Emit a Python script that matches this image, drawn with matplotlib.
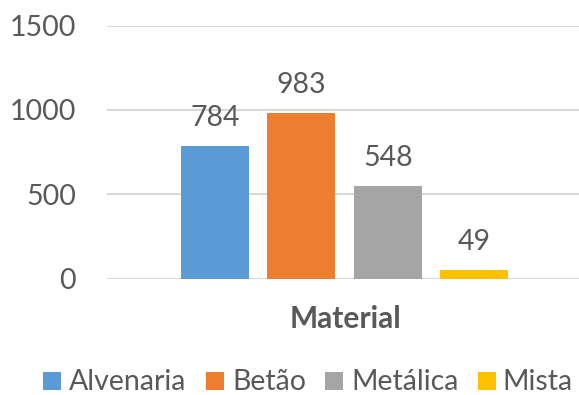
import matplotlib
matplotlib.use("Agg")
import matplotlib.pyplot as plt
from matplotlib.patches import Rectangle

# Data
category = "Material"
series = ["Alvenaria", "Betão", "Metálica", "Mista"]
values = [784, 983, 548, 49]
colors = ["#5B9BD5", "#ED7D31", "#A5A5A5", "#FFC000"]
yticks = [0, 500, 1000, 1500]

text_color = "#595959"
grid_color = "#D9D9D9"
plt.rcParams["font.family"] = ["Lato", "DejaVu Sans"]

W, H = 579, 395
fig = plt.figure(figsize=(W / 100, H / 100), dpi=100)
ax_left = 106.7 / W
ax = fig.add_axes([ax_left, 1 - 278.6 / H, 1 - ax_left, (278.6 - 25.7) / H])

positions = list(range(len(series)))
bars = ax.bar(positions, values, width=0.787, color=colors, zorder=3)

for b, v in zip(bars, values):
    ax.annotate(f"{v}", xy=(b.get_x() + b.get_width() / 2, v),
                xytext=(0, 14.4), textcoords="offset points",
                ha="center", va="baseline", fontsize=20.5, color=text_color)

ax.set_xlim(-1.253, 4.213)
ax.set_ylim(0, 1500)
ax.set_yticks(yticks)
ax.set_yticklabels([str(t) for t in yticks], fontsize=20.5, color=text_color)
ax.tick_params(axis="y", length=0, pad=22.3)
ax.set_xticks([])
ax.grid(axis="y", color=grid_color, linewidth=1.5, zorder=0)
for s in ax.spines.values():
    s.set_visible(False)

# Category axis title
fig.text(345.3 / W, 1 - 328.3 / H, category, ha="center", va="baseline",
         fontsize=21.5, fontweight="bold", color=text_color)

# Legend row: colour swatch followed by series name
swatch_x = [43.3, 206.3, 325.0, 478.0]
label_x = [69.0, 232.0, 351.0, 502.7]
sw = 17.5
baseline_y = 389.5
for sx, lx, name, c in zip(swatch_x, label_x, series, colors):
    fig.patches.append(Rectangle((sx / W, 1 - baseline_y / H), sw / W, sw / H,
                                 transform=fig.transFigure, facecolor=c,
                                 edgecolor="none"))
    fig.text(lx / W, 1 - baseline_y / H, name, ha="left", va="baseline",
             fontsize=20.5, color=text_color)

fig.savefig("out.png", dpi=100)
